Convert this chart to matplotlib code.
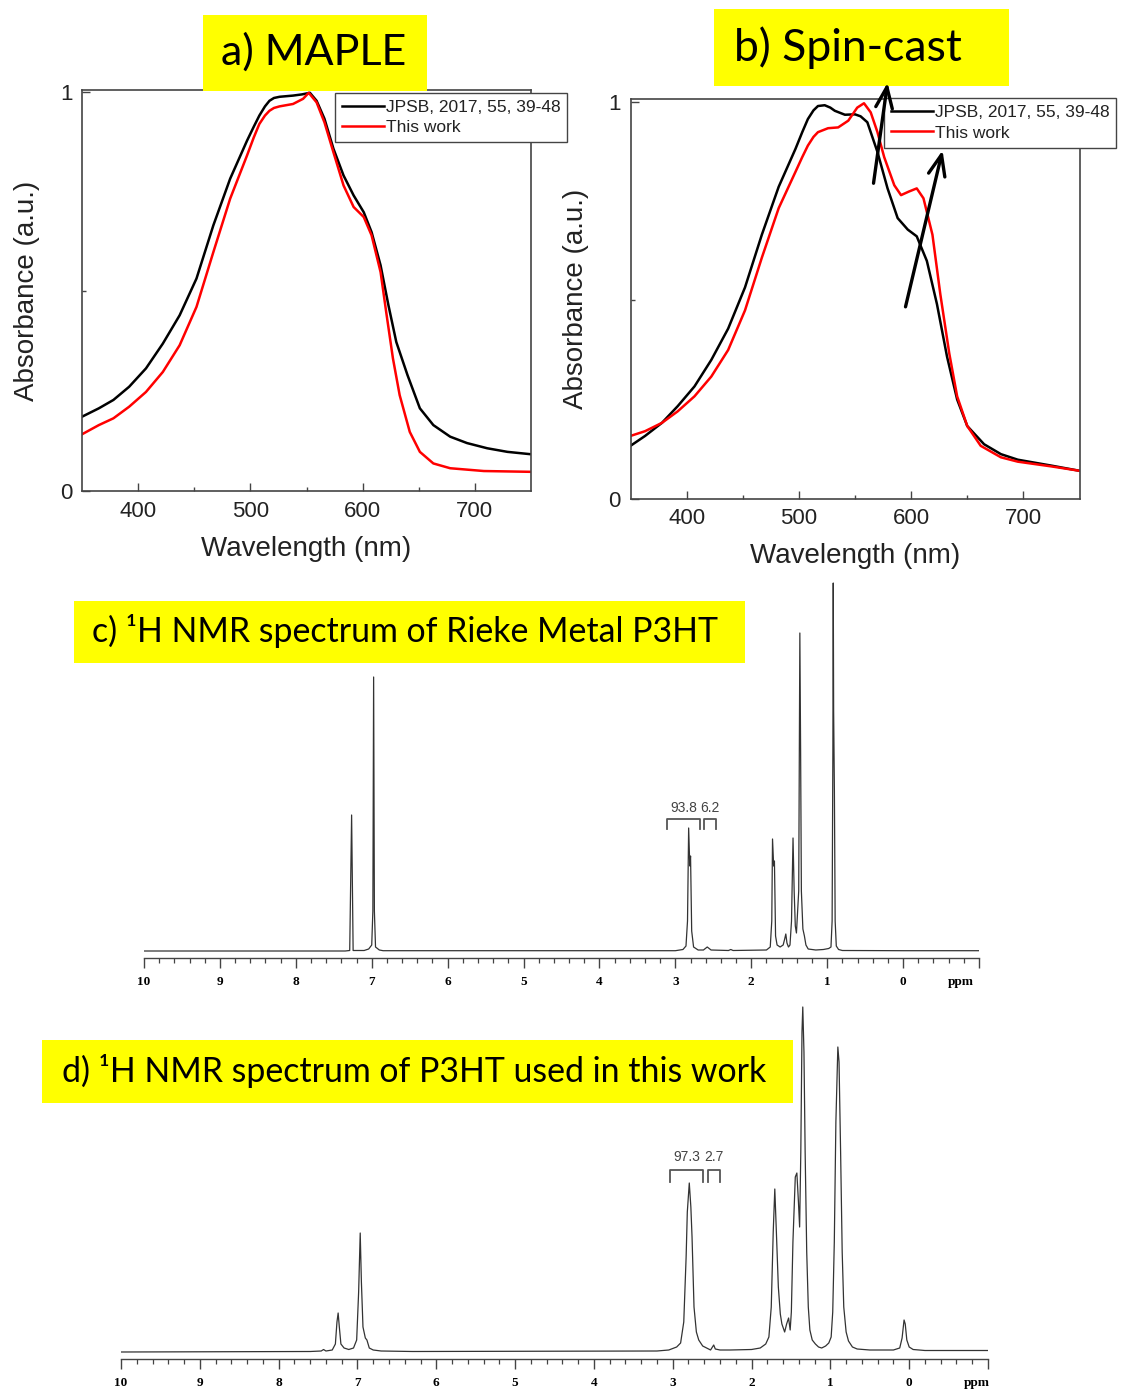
"""UV-vis (MAPLE / spin-cast) and 1H NMR panels for P3HT, recreated."""
import matplotlib
matplotlib.use("Agg")
import matplotlib.pyplot as plt
from matplotlib.patches import Rectangle
from matplotlib.ticker import FixedLocator, MultipleLocator

W, H = 1121, 1391

# ── UV-vis data (wavelength nm, normalised absorbance) ─────────────────

A_REF_WL = [350, 365, 378, 392, 407, 422, 437, 452, 467, 482, 497, 503, 508,
            513, 517, 521, 526, 538, 546, 553, 559, 566, 574, 583, 592, 601,
            608, 616, 623, 630, 640, 651, 663, 678, 693, 711, 729, 750]
A_REF_ABS = [0.186, 0.207, 0.228, 0.261, 0.307, 0.369, 0.440, 0.532, 0.665,
             0.782, 0.877, 0.912, 0.940, 0.963, 0.977, 0.984, 0.987, 0.990,
             0.993, 0.997, 0.977, 0.932, 0.857, 0.790, 0.740, 0.698, 0.648,
             0.565, 0.465, 0.373, 0.290, 0.207, 0.165, 0.136, 0.120, 0.107,
             0.098, 0.092]

A_WORK_WL = [350, 365, 378, 392, 407, 422, 437, 452, 467, 482, 497, 503, 508,
             513, 517, 521, 526, 538, 547, 552, 559, 566, 574, 583, 592, 601,
             608, 616, 621, 627, 633, 642, 651, 663, 678, 708, 750]
A_WORK_ABS = [0.142, 0.165, 0.182, 0.211, 0.248, 0.298, 0.365, 0.461, 0.598,
              0.732, 0.840, 0.885, 0.919, 0.940, 0.952, 0.959, 0.963, 0.969,
              0.982, 0.997, 0.973, 0.923, 0.848, 0.765, 0.711, 0.686, 0.640,
              0.548, 0.448, 0.332, 0.240, 0.148, 0.098, 0.069, 0.057, 0.050,
              0.048]

B_REF_WL = [350, 363, 378, 392, 407, 422, 437, 452, 467, 482, 497, 503, 508,
            513, 517, 523, 528, 532, 541, 550, 555, 561, 570, 579, 588, 597,
            605, 614, 623, 632, 641, 650, 665, 680, 695, 725, 750]
B_REF_ABS = [0.133, 0.158, 0.191, 0.233, 0.283, 0.350, 0.429, 0.533, 0.666,
             0.787, 0.883, 0.925, 0.958, 0.980, 0.991, 0.993, 0.987, 0.979,
             0.969, 0.970, 0.965, 0.950, 0.875, 0.783, 0.708, 0.679, 0.662,
             0.600, 0.491, 0.358, 0.250, 0.183, 0.137, 0.112, 0.098, 0.083,
             0.070]

B_WORK_WL = [350, 363, 378, 392, 407, 422, 437, 452, 467, 482, 497, 503, 508,
             513, 517, 526, 535, 544, 552, 558, 564, 570, 576, 585, 591, 598,
             605, 611, 619, 626, 634, 641, 650, 662, 680, 695, 725, 750]
B_WORK_ABS = [0.158, 0.170, 0.191, 0.220, 0.258, 0.308, 0.375, 0.475, 0.608,
              0.733, 0.825, 0.862, 0.891, 0.913, 0.925, 0.935, 0.937, 0.954,
              0.987, 0.998, 0.975, 0.925, 0.862, 0.791, 0.766, 0.775, 0.783,
              0.758, 0.666, 0.516, 0.366, 0.258, 0.183, 0.133, 0.104, 0.093,
              0.081, 0.070]

LEGEND_LABELS = ["JPSB, 2017, 55, 39-48", "This work"]

# ── 1H NMR data (ppm, intensity in arbitrary units) ────────────────────

C_PPM = [10.0, 7.35, 7.29, 7.265, 7.245, 7.10, 7.04, 7.00, 6.985, 6.975,
         6.965, 6.95, 6.90, 6.85, 3.00, 2.90, 2.86, 2.84, 2.825, 2.81, 2.80,
         2.785, 2.76, 2.70, 2.63, 2.58, 2.53, 2.30, 2.27, 2.24, 1.80, 1.75,
         1.73, 1.72, 1.705, 1.695, 1.68, 1.66, 1.62, 1.58, 1.56, 1.545, 1.53,
         1.51, 1.49, 1.47, 1.45, 1.435, 1.42, 1.405, 1.375, 1.36, 1.35, 1.34,
         1.32, 1.30, 1.28, 1.25, 1.15, 1.05, 0.98, 0.95, 0.935, 0.925, 0.92,
         0.915, 0.905, 0.895, 0.88, 0.85, 0.80, 0.00, -1.0]
C_INT = [0, 0, 0.5, 136, 0.5, 0.5, 2, 6, 40, 274,
         40, 4, 1, 0.3, 0.3, 1.5, 5, 30, 123, 85, 95,
         20, 4, 1, 1, 4, 1, 0.5, 1.5, 0.5, 1, 4,
         30, 112, 85, 90, 15, 6, 4, 6, 12, 17, 8,
         4, 6, 30, 113, 60, 25, 18, 60, 318, 200, 60,
         22, 15, 6, 2, 1, 1.5, 2.5, 4, 30, 200, 368,
         240, 160, 30, 5, 1.5, 0.5, 0.3, 0.3]

D_PPM = [10.0, 7.60, 7.46, 7.43, 7.40, 7.32, 7.28, 7.26, 7.245, 7.23, 7.21,
         7.17, 7.11, 7.05, 7.01, 6.985, 6.965, 6.95, 6.93, 6.90, 6.88, 6.85,
         6.80, 6.70, 6.30, 3.20, 3.05, 2.95, 2.90, 2.86, 2.83, 2.815, 2.79,
         2.77, 2.755, 2.73, 2.70, 2.67, 2.62, 2.57, 2.52, 2.48, 2.46, 2.40,
         2.27, 2.00, 1.89, 1.82, 1.78, 1.75, 1.725, 1.705, 1.685, 1.66, 1.635,
         1.615, 1.58, 1.555, 1.53, 1.51, 1.495, 1.475, 1.445, 1.425, 1.405,
         1.39, 1.375, 1.36, 1.35, 1.335, 1.32, 1.30, 1.28, 1.26, 1.23, 1.19,
         1.15, 1.11, 1.06, 1.02, 0.99, 0.97, 0.95, 0.93, 0.905, 0.89, 0.87,
         0.85, 0.83, 0.80, 0.77, 0.72, 0.66, 0.50, 0.20, 0.12, 0.09, 0.065,
         0.05, 0.03, 0.00, -0.05, -0.20, -1.0]
D_INT = [0, 0.5, 1, 2.5, 1, 2, 8, 30, 39, 25, 8,
         4, 2.5, 4, 12, 60, 119, 70, 25, 14, 12, 4,
         2, 1, 0.5, 1, 2, 5, 9, 30, 95, 140, 169,
         145, 115, 45, 20, 12, 6, 4, 2, 7, 3, 2,
         2, 2.5, 4, 8, 15, 45, 120, 163, 120, 65, 38,
         28, 20, 28, 34, 22, 40, 110, 175, 179, 150,
         125, 200, 320, 345, 300, 200, 100, 45, 22, 12, 8,
         5, 4, 6, 9, 15, 40, 110, 230, 305, 290, 200,
         100, 45, 20, 11, 5, 3, 2, 2, 4, 14, 32,
         28, 12, 5, 2.5, 1.5, 1.5]

# integration ranges (ppm) and values
C_INTEG = [(3.11, 2.67), (2.62, 2.46)]
C_INTEG_VALUES = ["93.8", "6.2"]
D_INTEG = [(3.04, 2.61), (2.55, 2.40)]
D_INTEG_VALUES = ["97.3", "2.7"]

NMR_MAJOR = list(range(10, -2, -1))
NMR_LABELS = [str(v) for v in NMR_MAJOR[:-1]] + [""]


def px_rect(left, top, right, bottom):
    return [left / W, 1 - bottom / H, (right - left) / W, (bottom - top) / H]


def title_box(fig, box, center, text, size):
    left, top, right, bottom = box
    fig.add_artist(Rectangle((left / W, 1 - bottom / H), (right - left) / W,
                             (bottom - top) / H, transform=fig.transFigure,
                             facecolor="#ffff00", edgecolor="none", zorder=1))
    fig.text(center[0] / W, 1 - center[1] / H, text, ha="center",
             va="center", fontsize=size, family=["Lato", "DejaVu Sans"],
             color="black", zorder=3)


def uv_panel(ax, ref, work, ytop, anchor):
    ax.plot(ref[0], ref[1], color="black", lw=1.8, label=LEGEND_LABELS[0])
    ax.plot(work[0], work[1], color="#ff0000", lw=1.8, label=LEGEND_LABELS[1])
    ax.set_xlim(350, 750)
    ax.set_ylim(0, ytop)
    ax.set_xticks([400, 500, 600, 700])
    ax.xaxis.set_minor_locator(FixedLocator([450, 550, 650]))
    ax.set_yticks([0, 1])
    ax.set_yticklabels(["0", "1"])
    ax.yaxis.set_minor_locator(FixedLocator([0.5]))
    ax.tick_params(which="both", direction="in", color="#444",
                   labelcolor="#222")
    ax.tick_params(which="major", length=6, width=1, labelsize=16, pad=7)
    ax.tick_params(which="minor", length=3, width=1)
    for s in ax.spines.values():
        s.set_color("#444")
        s.set_linewidth(1.2)
    ax.set_xlabel("Wavelength (nm)", fontsize=20, labelpad=10, color="#222")
    ax.set_ylabel("Absorbance (a.u.)", fontsize=20, labelpad=14, color="#222")
    leg = ax.legend(loc="upper left", bbox_to_anchor=anchor, borderaxespad=0,
                    fontsize=12.5, handlelength=2.4, handletextpad=0.12,
                    borderpad=0.4, labelspacing=0.3, fancybox=False,
                    framealpha=1, edgecolor="#444")
    leg.get_frame().set_linewidth(1.0)
    for t in leg.get_texts():
        t.set_color("#222")
    return leg


def nmr_panel(ax, ppm, inten, ytop, integ, values, y_bracket, ppm_x):
    ax.plot(ppm, inten, color="#333", lw=0.9)
    ax.set_xlim(10, -1)
    ax.set_ylim(-7, ytop)
    ax.patch.set_visible(False)
    for s in ("top", "right", "left"):
        ax.spines[s].set_visible(False)
    ax.spines["bottom"].set_color("#444")
    ax.spines["bottom"].set_linewidth(1.0)
    ax.set_yticks([])
    ax.set_xticks(NMR_MAJOR)
    ax.set_xticklabels(NMR_LABELS)
    ax.xaxis.set_minor_locator(MultipleLocator(0.2))
    ax.tick_params(axis="x", which="major", direction="out", length=7,
                   width=1, pad=6, labelsize=9.5, color="#444")
    ax.tick_params(axis="x", which="minor", direction="out", length=3.5,
                   width=0.9, color="#444")
    for lab in ax.get_xticklabels():
        lab.set_fontfamily("Liberation Serif")
        lab.set_fontweight("bold")
    ax.annotate("ppm", xy=(ppm_x, 0), xycoords=("data", "axes fraction"),
                xytext=(0, -17.5), textcoords="offset points", ha="center",
                va="center", fontsize=9.5, family="Liberation Serif",
                fontweight="bold")
    top, leg, lab_y = y_bracket
    for (x0, x1), val in zip(integ, values):
        ax.plot([x0, x0, x1, x1], [leg, top, top, leg], color="#555", lw=1.3)
        ax.text((x0 + x1) / 2, lab_y, val, ha="center", va="center",
                fontsize=10, family="Liberation Sans", color="#444")


def main():
    fig = plt.figure(figsize=(W / 100, H / 100), dpi=100)
    plt.rcParams["font.family"] = ["Liberation Sans", "DejaVu Sans"]

    ax_a = fig.add_axes(px_rect(82, 90, 531, 491))
    uv_panel(ax_a, (A_REF_WL, A_REF_ABS), (A_WORK_WL, A_WORK_ABS), 1.004,
             (0.564, 0.9925))

    ax_b = fig.add_axes(px_rect(630.5, 98.5, 1079.5, 498.5))
    ax_b.set_zorder(2)
    uv_panel(ax_b, (B_REF_WL, B_REF_ABS), (B_WORK_WL, B_WORK_ABS), 1.01,
             (0.565, 1.001))
    # arrows marking the red shift of the two vibronic bands
    for tail, tip in (((566.5, 0.796), (579, 1.05)),
                      ((595, 0.484), (628, 0.879))):
        ax_b.annotate("", xy=tip, xytext=tail, annotation_clip=False,
                      zorder=10,
                      arrowprops=dict(arrowstyle="->,head_length=1.5,head_width=0.6",
                                      lw=2.4, color="black", clip_on=False,
                                      shrinkA=0, shrinkB=0))

    ax_c = fig.add_axes(px_rect(144, 580, 979, 958))
    nmr_panel(ax_c, C_PPM, C_INT, 371, C_INTEG, C_INTEG_VALUES,
              (132, 122, 143), -0.76)

    ax_d = fig.add_axes(px_rect(121, 1000, 988, 1359))
    nmr_panel(ax_d, D_PPM, D_INT, 352, D_INTEG, D_INTEG_VALUES,
              (182, 170, 195), -0.86)

    title_box(fig, (203, 15, 427, 91), (314, 52), "a) MAPLE", 31)
    title_box(fig, (714, 9, 1009, 86), (848, 48), "b) Spin-cast", 32)
    title_box(fig, (74, 601, 745, 663), (405, 631),
              "c) \u00b9H NMR spectrum of Rieke Metal P3HT", 24.4)
    title_box(fig, (42, 1040, 793, 1103), (414, 1071),
              "d) \u00b9H NMR spectrum of P3HT used in this work", 24.4)

    fig.savefig("out.png", dpi=100)


if __name__ == "__main__":
    main()
